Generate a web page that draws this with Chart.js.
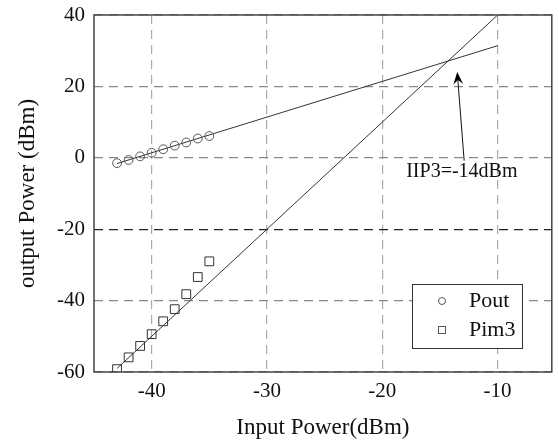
<!DOCTYPE html>
<html>
<head>
<meta charset="utf-8">
<script src="https://cdn.jsdelivr.net/npm/chart.js@4/dist/chart.umd.min.js"></script>
<style>
  html, body { margin: 0; padding: 0; background: #fff; }
  #wrap { width: 559px; height: 443px; }
</style>
</head>
<body>
<div id="wrap"><canvas id="myChart"></canvas></div>
<script>
// measured points (dBm)
var inputPower = [-43, -42, -41, -40, -39, -38, -37, -36, -35]
var poutMeasured = [-1.5, -0.6, 0.4, 1.4, 2.4, 3.4, 4.3, 5.4, 6.1]
var pim3Measured = [-59.2, -55.9, -52.7, -49.4, -45.8, -42.4, -38.2, -33.4, -29.0]

// extrapolated fit lines
var fitInput = [-43, -10]
var poutFit = [-1.6, 31.4]
var pim3Fit = [-59, 40]

// axis ticks
var xTicks = [-40, -30, -20, -10]
var yTicks = [-60, -40, -20, 0, 20, 40]

// annotation
var iip3Label = 'IIP3=-14dBm'
var arrowTip = [-13.5, 24]
var arrowTail = [-12.9, -0.8]
var labelAt = [-13.1, -4]

var serif = '"Liberation Serif", "Times New Roman", serif'

function pts(xs, ys) {
    return xs.map(function (x, i) { return { x: x, y: ys[i] } })
}

var framePlugin = {
    id: 'frame',
    afterDraw: function (chart) {
        var ctx = chart.ctx
        var a = chart.chartArea
        var xs = chart.scales.x, ys = chart.scales.y
        ctx.save()
        ctx.strokeStyle = '#444'
        ctx.lineWidth = 1.5
        ctx.strokeRect(a.left, a.top, a.right - a.left, a.bottom - a.top)

        // arrow
        var tx = xs.getPixelForValue(arrowTip[0]), ty = ys.getPixelForValue(arrowTip[1])
        var fx = xs.getPixelForValue(arrowTail[0]), fy = ys.getPixelForValue(arrowTail[1])
        var ang = Math.atan2(ty - fy, tx - fx)
        ctx.strokeStyle = '#111'
        ctx.lineWidth = 1
        ctx.beginPath()
        ctx.moveTo(fx, fy)
        ctx.lineTo(tx - Math.cos(ang) * 6, ty - Math.sin(ang) * 6)
        ctx.stroke()
        ctx.fillStyle = '#000'
        ctx.beginPath()
        ctx.moveTo(tx, ty)
        ctx.lineTo(tx - Math.cos(ang - 0.38) * 13, ty - Math.sin(ang - 0.38) * 13)
        ctx.lineTo(tx - Math.cos(ang) * 8, ty - Math.sin(ang) * 8)
        ctx.lineTo(tx - Math.cos(ang + 0.38) * 13, ty - Math.sin(ang + 0.38) * 13)
        ctx.closePath()
        ctx.fill()

        ctx.font = '20px ' + serif
        ctx.textAlign = 'center'
        ctx.textBaseline = 'middle'
        ctx.fillStyle = '#111'
        ctx.fillText(iip3Label, xs.getPixelForValue(labelAt[0]), ys.getPixelForValue(labelAt[1]))

        // legend box
        var lx = 412, ly = 284, lw = 110, lh = 64
        ctx.fillStyle = '#fff'
        ctx.fillRect(lx, ly, lw, lh)
        ctx.strokeStyle = '#333'
        ctx.lineWidth = 1
        ctx.strokeRect(lx + 0.5, ly + 0.5, lw, lh)
        ctx.strokeStyle = '#555'
        ctx.beginPath()
        ctx.arc(lx + 30, ly + 17, 3.5, 0, Math.PI * 2)
        ctx.stroke()
        ctx.strokeRect(lx + 26.5, ly + 42.5, 7, 7)
        ctx.font = '22px ' + serif
        ctx.textAlign = 'left'
        ctx.fillStyle = '#111'
        var names = chart.data.datasets.filter(function (d) { return d.showInLegend })
        names.forEach(function (d, i) {
            ctx.fillText(d.label, lx + 57, ly + 17 + i * 29)
        })
        ctx.restore()
    }
}

var ctx = document.getElementById('myChart').getContext('2d')
var myChart = new Chart(ctx, {
    type: 'scatter',
    data: {
        datasets: [{
            label: 'Pout',
            showInLegend: true,
            data: pts(inputPower, poutMeasured),
            pointStyle: 'circle',
            pointRadius: 4.4,
            borderColor: '#555',
            backgroundColor: 'rgba(0,0,0,0)',
            borderWidth: 1
        }, {
            label: 'Pim3',
            showInLegend: true,
            data: pts(inputPower, pim3Measured),
            pointStyle: 'rect',
            pointRadius: 6.2,
            borderColor: '#333',
            backgroundColor: 'rgba(0,0,0,0)',
            borderWidth: 1
        }, {
            label: 'Pout fit',
            data: pts(fitInput, poutFit),
            showLine: true,
            pointRadius: 0,
            borderColor: '#333',
            borderWidth: 1
        }, {
            label: 'Pim3 fit',
            data: pts(fitInput, pim3Fit),
            showLine: true,
            pointRadius: 0,
            borderColor: '#333',
            borderWidth: 1
        }]
    },
    options: {
        responsive: true,
        maintainAspectRatio: false,
        animation: false,
        layout: { padding: { left: 0, right: 6, top: 15, bottom: 0 } },
        plugins: {
            legend: { display: false },
            tooltip: { enabled: false }
        },
        scales: {
            x: {
                type: 'linear',
                min: -45,
                max: -5.3,
                afterFit: function (s) {
                    s.height = 71
                    s.paddingLeft = 0
                    s.paddingRight = 0
                },
                afterBuildTicks: function (s) { s.ticks = xTicks.map(function (v) { return { value: v } }) },
                grid: {
                    drawTicks: false,
                    color: '#aaa',
                    lineWidth: 1.2
                },
                border: { display: false, dash: [9, 6] },
                ticks: {
                    padding: 7,
                    color: '#111',
                    font: { family: serif, size: 21 }
                },
                title: {
                    display: true,
                    text: 'Input Power(dBm)',
                    color: '#111',
                    font: { family: serif, size: 23 },
                    padding: { top: 0, bottom: 1 }
                }
            },
            y: {
                min: -60,
                max: 40,
                afterFit: function (s) {
                    s.width = 94
                    s.paddingTop = 0
                    s.paddingBottom = 0
                },
                afterBuildTicks: function (s) { s.ticks = yTicks.map(function (v) { return { value: v } }) },
                grid: {
                    drawTicks: false,
                    color: function (c) { return c.tick && c.tick.value === -20 ? '#222' : '#888' },
                    lineWidth: 1.2
                },
                border: { display: false, dash: [9, 6] },
                ticks: {
                    padding: 9,
                    color: '#111',
                    font: { family: serif, size: 21 }
                },
                title: {
                    display: true,
                    text: 'output Power (dBm)',
                    color: '#111',
                    font: { family: serif, size: 23 },
                    padding: { top: 14, bottom: 0 }
                }
            }
        }
    },
    plugins: [framePlugin]
})
</script>
</body>
</html>
